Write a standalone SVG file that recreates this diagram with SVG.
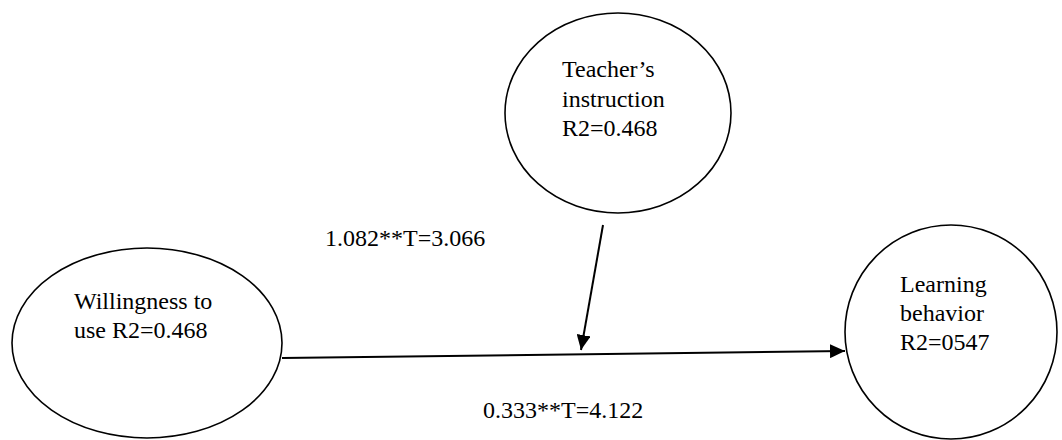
<svg xmlns="http://www.w3.org/2000/svg" width="1062" height="440" viewBox="0 0 1062 440">
  <defs>
    <style>
      .node { fill: #ffffff; stroke: #000000; stroke-width: 1.6; }
      .txt { font-family: "Liberation Serif", "Times New Roman", serif; font-size: 24px; fill: #000000; }
      .edge { stroke: #000000; stroke-width: 2; fill: none; }
    </style>
    <marker id="arrow" viewBox="0 0 15 14" refX="15" refY="7" markerWidth="15" markerHeight="14" markerUnits="userSpaceOnUse" orient="auto">
      <path d="M0,0 L15,7 L0,14 Z" fill="#000000"/>
    </marker>
  </defs>
  <rect width="1062" height="440" fill="#ffffff"/>

  <g id="teacher-instruction">
    <ellipse class="node" cx="618" cy="113" rx="113" ry="100"/>
    <text class="txt" x="562" y="77">Teacher’s</text>
    <text class="txt" x="562" y="107">instruction</text>
    <text class="txt" x="562" y="136">R2=0.468</text>
  </g>

  <g id="willingness-to-use">
    <ellipse class="node" cx="147" cy="343" rx="135" ry="95"/>
    <text class="txt" x="74" y="309">Willingness to</text>
    <text class="txt" x="74" y="338">use R2=0.468</text>
  </g>

  <g id="learning-behavior">
    <ellipse class="node" cx="951" cy="332" rx="106" ry="107"/>
    <text class="txt" x="900" y="292">Learning</text>
    <text class="txt" x="900" y="321">behavior</text>
    <text class="txt" x="900" y="350">R2=0547</text>
  </g>

  <g id="connectors">
    <line class="edge" x1="282" y1="358" x2="845" y2="351" marker-end="url(#arrow)"/>
    <line class="edge" x1="603" y1="225" x2="581" y2="350" marker-end="url(#arrow)"/>
    <text class="txt" x="325" y="246">1.082**T=3.066</text>
    <text class="txt" x="483" y="418">0.333**T=4.122</text>
  </g>
</svg>
